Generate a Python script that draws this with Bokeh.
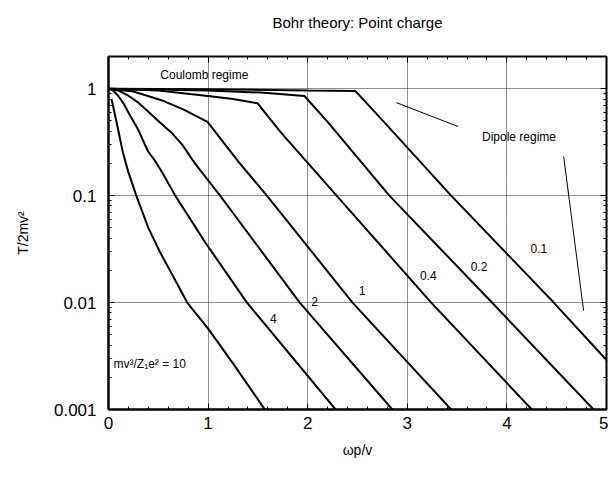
from bokeh.plotting import figure
from bokeh.models import (Range1d, LogAxis, LinearAxis, Label, SingleIntervalTicker,
                          LogTicker, NumeralTickFormatter, Title)
from bokeh.embed import file_html
from bokeh.resources import INLINE

FONT = "Liberation Sans"

# ---- data (x = omega p / v, y = T/2mv^2) ----
k10_x = [0.03, 0.06, 0.10, 0.144, 0.20, 0.279, 0.40, 0.514, 0.65, 0.79, 1.0, 1.25, 1.57]
k10_y = [0.80, 0.60, 0.40, 0.254, 0.165, 0.10, 0.050, 0.030, 0.0175, 0.010, 0.0057, 0.0027, 0.001]

k4_x = [0.0, 0.05, 0.1, 0.15, 0.2, 0.3, 0.396, 0.47, 0.547, 0.67, 0.967, 1.39, 2.28]
k4_y = [1.0, 0.96, 0.85, 0.73, 0.60, 0.41, 0.26, 0.21, 0.16, 0.10, 0.037, 0.010, 0.001]

k2_x = [0.0, 0.1, 0.2, 0.3, 0.4, 0.52, 0.63, 0.74, 0.86, 1.12, 1.92, 2.85]
k2_y = [1.0, 0.96, 0.86, 0.74, 0.61, 0.48, 0.39, 0.30, 0.205, 0.10, 0.010, 0.001]

k1_x = [0.0, 0.25, 0.524, 0.75, 0.994, 1.31, 1.59, 2.45, 3.44]
k1_y = [1.0, 0.94, 0.785, 0.64, 0.49, 0.205, 0.10, 0.010, 0.001]

k04_x = [0.0, 0.5, 0.977, 1.25, 1.497, 1.73, 2.29, 3.24, 4.25]
k04_y = [1.0, 0.96, 0.86, 0.80, 0.73, 0.39, 0.10, 0.010, 0.001]

k02_x = [0.0, 1.0, 1.53, 1.967, 2.2, 2.82, 3.85, 4.87]
k02_y = [1.0, 0.96, 0.92, 0.855, 0.49, 0.10, 0.010, 0.001]

k01_x = [0.0, 1.0, 2.0, 2.48, 2.74, 3.44, 4.47, 5.0]
k01_y = [1.0, 0.99, 0.96, 0.95, 0.52, 0.10, 0.010, 0.0029]

curves = [(k10_x, k10_y), (k4_x, k4_y), (k2_x, k2_y), (k1_x, k1_y),
          (k04_x, k04_y), (k02_x, k02_y), (k01_x, k01_y)]

# curve labels (text, x, y)
curve_labels = ["4", "2", "1", "0.4", "0.2", "0.1"]
curve_label_x = [1.655, 2.07, 2.545, 3.21, 3.72, 4.32]
curve_label_y = [0.0071, 0.0102, 0.0131, 0.018, 0.0216, 0.032]

# pointer lines toward the "Dipole regime" text
pointer1_x = [2.89, 3.51]
pointer1_y = [0.741, 0.443]
pointer2_x = [4.57, 4.77]
pointer2_y = [0.232, 0.0084]

x_ticks_interval = 1
y_range = (0.001, 2.0)
x_range = (0.0, 5.0)

p = figure(width=608, height=477, output_backend="svg", toolbar_location=None,
           x_axis_type="linear", y_axis_type="log", title=None,
           x_range=Range1d(*x_range), y_range=Range1d(*y_range),
           min_border_left=108, min_border_right=2, min_border_top=55,
           min_border_bottom=68)

p.outline_line_color = "black"
p.outline_line_width = 2
p.background_fill_color = "white"
p.border_fill_color = "white"

for xs, ys in curves:
    p.line(xs, ys, line_color="black", line_width=2)

p.line(pointer1_x, pointer1_y, line_color="black", line_width=1)
p.line(pointer2_x, pointer2_y, line_color="black", line_width=1)

# axes
xa = p.xaxis[0]
xa.ticker = SingleIntervalTicker(interval=x_ticks_interval, num_minor_ticks=5)
xa.axis_label = "ωp/v"
ya = p.yaxis[0]
ya.ticker = LogTicker(num_minor_ticks=10)
ya.formatter = NumeralTickFormatter(format="0.[000]")
ya.axis_label = "T/2mv²"

for ax in (xa, ya):
    ax.axis_line_color = "black"
    ax.axis_line_width = 2
    ax.major_tick_in = 6
    ax.major_tick_out = 0
    ax.minor_tick_in = 3
    ax.minor_tick_out = 0
    ax.major_label_text_font = FONT
    ax.major_label_text_font_size = "17px"
    ax.major_label_text_color = "black"
    ax.axis_label_text_font = FONT
    ax.axis_label_text_font_size = "14px"
    ax.axis_label_text_font_style = "normal"
    ax.axis_label_text_color = "black"
xa.major_label_standoff = 7
xa.axis_label_standoff = 10
ya.major_label_standoff = 12
ya.axis_label_standoff = 20

# mirror axes (ticks only)
top = LinearAxis(ticker=SingleIntervalTicker(interval=x_ticks_interval, num_minor_ticks=5))
right = LogAxis(ticker=LogTicker(num_minor_ticks=10))
for ax in (top, right):
    ax.major_label_text_font_size = "4px"
    ax.major_label_text_color = None
    ax.major_label_standoff = 0
    ax.axis_line_color = None
    ax.major_tick_in = 6
    ax.major_tick_out = 0
    ax.minor_tick_in = 3
    ax.minor_tick_out = 0
p.add_layout(top, "above")
p.add_layout(right, "right")

# spacer between frame and title, then the title itself (outermost)
p.add_layout(Title(text=" ", text_font_size="2px", standoff=11), "above")
p.add_layout(Title(text="Bohr theory: Point charge", text_font=FONT,
                   text_font_size="15px", text_font_style="normal",
                   text_color="black", align="center", standoff=22), "above")

# grids
p.xgrid.ticker = SingleIntervalTicker(interval=x_ticks_interval)
p.xgrid.grid_line_color = "#222222"
p.xgrid.grid_line_dash = "1 1"
p.xgrid.grid_line_width = 1
p.ygrid.ticker = LogTicker()
p.ygrid.grid_line_color = "#222222"
p.ygrid.grid_line_dash = "1 1"
p.ygrid.grid_line_width = 1

# texts
for t, x, y in zip(curve_labels, curve_label_x, curve_label_y):
    p.add_layout(Label(x=x, y=y, text=t, text_font=FONT, text_font_size="12px",
                       text_align="center", text_baseline="middle", text_color="black"))

p.add_layout(Label(x=0.52, y=1.33, text="Coulomb regime", text_font=FONT,
                   text_font_size="12px", text_baseline="middle", text_color="black"))
p.add_layout(Label(x=3.75, y=0.357, text="Dipole regime", text_font=FONT,
                   text_font_size="12px", text_baseline="middle", text_color="black"))
p.add_layout(Label(x=0.05, y=0.00265, text="mv³/Z₁e² = 10", text_font=FONT,
                   text_font_size="12px", text_baseline="middle", text_color="black"))

open("out.html", "w").write(file_html(p, INLINE))
